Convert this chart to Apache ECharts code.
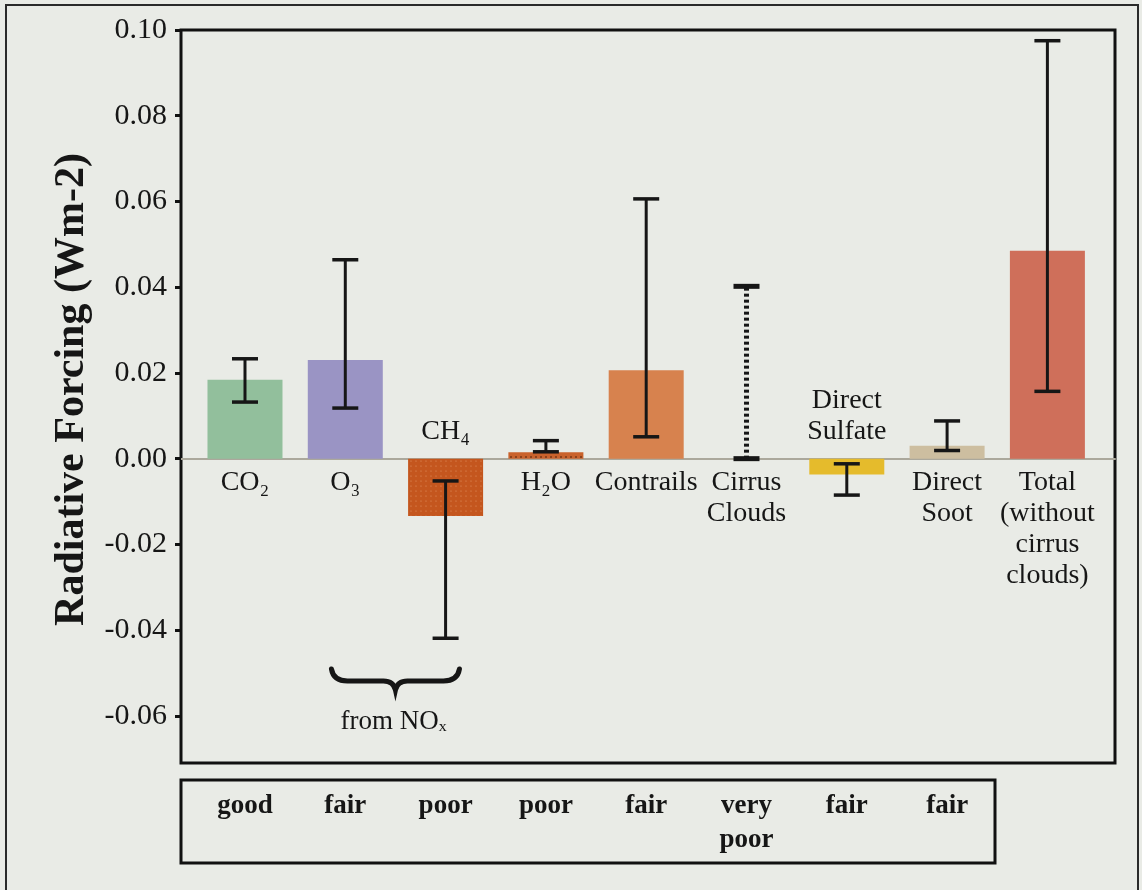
<!DOCTYPE html>
<html>
<head>
<meta charset="utf-8">
<script src="https://cdn.jsdelivr.net/npm/echarts@6/dist/echarts.min.js"></script>
<style>
  html, body { margin: 0; padding: 0; background: #e9ebe6; }
  #chart { width: 1142px; height: 890px; }
</style>
</head>
<body>
<div id="chart"></div>
<script>
// Aviation radiative forcing components (W m-2) with uncertainty ranges
const categories = ['CO\u2082', 'O\u2083', 'CH\u2084', 'H\u2082O', 'Contrails',
  'Cirrus\nClouds', 'Direct\nSulfate', 'Direct\nSoot', 'Total\n(without\ncirrus\nclouds)'];
const forcing = [0.0184, 0.0230, -0.0134, 0.0015, 0.0206, null, -0.0037, 0.0030, 0.0485];
const errLow  = [0.0132, 0.0118, -0.0419, 0.0016, 0.0051, 0.0000, -0.0085, 0.0019, 0.0157];
const errHigh = [0.0233, 0.0464, -0.0052, 0.0042, 0.0606, 0.0402, -0.0012, 0.0088, 0.0975];
const errDotted = [false, false, false, false, false, true, false, false, false];
const barColors = ['#92bf9c', '#9a94c4', '#c4561e', '#c9622c', '#d7824e', '#cccccc', '#e5bb2c', '#cdbea0', '#cf6f5a'];
// level of scientific understanding for the first eight components
const understanding = ['good', 'fair', 'poor', 'poor', 'fair', 'very\npoor', 'fair', 'fair'];
// O3 and CH4 both result from NOx emissions
const noxGroup = [1, 2];
const yTicks = [-0.06, -0.04, -0.02, 0.00, 0.02, 0.04, 0.06, 0.08, 0.10];

const SERIF = '"Liberation Serif", "Times New Roman", "DejaVu Serif", serif';
const INK = '#161616';
const X_MIN = -0.638, X_MAX = 8.674, BOX_X_MAX = 7.477;

const chart = echarts.init(document.getElementById('chart'), null, { renderer: 'canvas' });

const decals = [];
decals[2] = { symbol: 'circle', symbolSize: 0.6, dashArrayX: [2, 3], dashArrayY: [2, 3], color: 'rgba(255, 205, 165, 0.55)' };
decals[3] = { symbol: 'circle', symbolSize: 0.8, dashArrayX: [2, 3], dashArrayY: [2, 4], color: 'rgba(50, 20, 5, 0.9)' };

const barData = forcing.map((v, i) => ({
  value: [i, v],
  itemStyle: Object.assign({ color: barColors[i] }, decals[i] ? { decal: decals[i] } : {})
}));

const option = {
  backgroundColor: '#e9ebe6',
  animation: false,
  textStyle: { fontFamily: SERIF, color: INK },
  grid: [
    { left: 181, right: 27, top: 30, bottom: 127, show: true, borderColor: '#111', borderWidth: 3, backgroundColor: 'transparent' },
    { left: 181, top: 780, width: 814, height: 83, show: true, borderColor: '#111', borderWidth: 3, backgroundColor: 'transparent' }
  ],
  xAxis: [
    {
      type: 'value', gridIndex: 0, min: X_MIN, max: X_MAX,
      axisLine: { show: true, onZero: true, lineStyle: { color: '#aba89c', width: 2 } },
      axisTick: { show: false }, axisLabel: { show: false }, splitLine: { show: false }
    },
    {
      type: 'value', gridIndex: 1, min: X_MIN, max: BOX_X_MAX,
      axisLine: { show: false }, axisTick: { show: false }, axisLabel: { show: false }, splitLine: { show: false }
    }
  ],
  yAxis: [
    {
      type: 'value', gridIndex: 0, min: -0.071, max: 0.10,
      name: 'Radiative Forcing (Wm-2)',
      nameLocation: 'middle', nameGap: 88, nameRotate: 90,
      nameTextStyle: { fontFamily: SERIF, fontWeight: 'bold', fontSize: 42, color: INK, padding: [0, 0, 0, 14] },
      axisLine: { show: false, onZero: false },
      axisTick: { show: true, inside: false, length: 6, customValues: yTicks, lineStyle: { color: '#111', width: 3 } },
      axisLabel: {
        show: true, customValues: yTicks, margin: 14,
        fontFamily: SERIF, fontSize: 30, color: INK,
        formatter: v => v.toFixed(2)
      },
      splitLine: { show: false }
    },
    {
      type: 'value', gridIndex: 1, min: 0, max: 1, show: false
    }
  ],
  series: [
    {
      type: 'bar', xAxisIndex: 0, yAxisIndex: 0,
      barWidth: 75, data: barData, z: 2, silent: true
    },
    {
      type: 'custom', xAxisIndex: 0, yAxisIndex: 0, z: 5, silent: true,
      data: errLow.map((lo, i) => [i, lo, errHigh[i]]),
      renderItem(params, api) {
        const i = api.value(0);
        const lo = api.coord([i, api.value(1)]);
        const hi = api.coord([i, api.value(2)]);
        const dotted = errDotted[params.dataIndex];
        const half = 13;
        const capW = dotted ? 5 : 3.5;
        return {
          type: 'group',
          children: [
            { type: 'line', shape: { x1: lo[0], y1: lo[1], x2: hi[0], y2: hi[1] },
              style: { stroke: INK, lineWidth: dotted ? 5 : 3, lineDash: dotted ? [3, 3] : null } },
            { type: 'line', shape: { x1: lo[0] - half, y1: lo[1], x2: lo[0] + half, y2: lo[1] },
              style: { stroke: INK, lineWidth: capW } },
            { type: 'line', shape: { x1: hi[0] - half, y1: hi[1], x2: hi[0] + half, y2: hi[1] },
              style: { stroke: INK, lineWidth: capW } }
          ]
        };
      }
    },
    {
      // component names sit beside the zero line, opposite the bar
      type: 'scatter', xAxisIndex: 0, yAxisIndex: 0, symbolSize: 0, silent: true, z: 6,
      itemStyle: { opacity: 1 },
      data: categories.map((c, i) => ({
        value: [i, 0],
        label: forcing[i] !== null && forcing[i] < 0
          ? { position: 'top', distance: 12 }
          : { position: 'bottom', distance: 8 }
      })),
      label: {
        show: true, fontFamily: SERIF, fontSize: 28, lineHeight: 31, color: INK, align: 'center',
        formatter: p => categories[p.dataIndex]
      }
    },
    {
      // brace grouping the NOx-driven components
      type: 'custom', xAxisIndex: 0, yAxisIndex: 0, z: 6, silent: true,
      data: [noxGroup],
      renderItem(params, api) {
        const a = api.coord([api.value(0), 0]);
        const b = api.coord([api.value(1), 0]);
        const mid = (a[0] + b[0]) / 2;
        const x1 = mid - 64, x2 = mid + 64;
        const yTop = 669, yBar = 681, yTip = 690;
        const path = `M${x1},${yTop} Q${x1 + 2},${yBar} ${x1 + 16},${yBar} L${mid - 12},${yBar} Q${mid - 2},${yBar} ${mid},${yTip} ` +
                     `Q${mid + 2},${yBar} ${mid + 12},${yBar} L${x2 - 16},${yBar} Q${x2 - 2},${yBar} ${x2},${yTop}`;
        return {
          type: 'group',
          children: [
            { type: 'path', shape: { pathData: path }, style: { stroke: INK, lineWidth: 5, fill: null, lineCap: 'round' } },
            { type: 'text', x: mid - 2, y: 722,
              style: { text: 'from NO\u2093', fontFamily: SERIF, fontSize: 27, fill: INK, align: 'center', verticalAlign: 'middle' } }
          ]
        };
      }
    },
    {
      // understanding ratings in the box under the plot
      type: 'scatter', xAxisIndex: 1, yAxisIndex: 1, symbolSize: 0, silent: true,
      itemStyle: { opacity: 1 },
      data: understanding.map((u, i) => [i, 1]),
      label: {
        show: true, position: 'bottom', distance: 9,
        fontFamily: SERIF, fontWeight: 'bold', fontSize: 27, lineHeight: 34, color: INK, align: 'center',
        formatter: p => understanding[p.dataIndex]
      }
    }
  ],
  graphic: [
    { type: 'rect', shape: { x: 6, y: 5, width: 1132, height: 900 }, style: { fill: null, stroke: '#2a2a2a', lineWidth: 2 }, silent: true, z: -1 }
  ]
};

chart.setOption(option);
</script>
</body>
</html>
